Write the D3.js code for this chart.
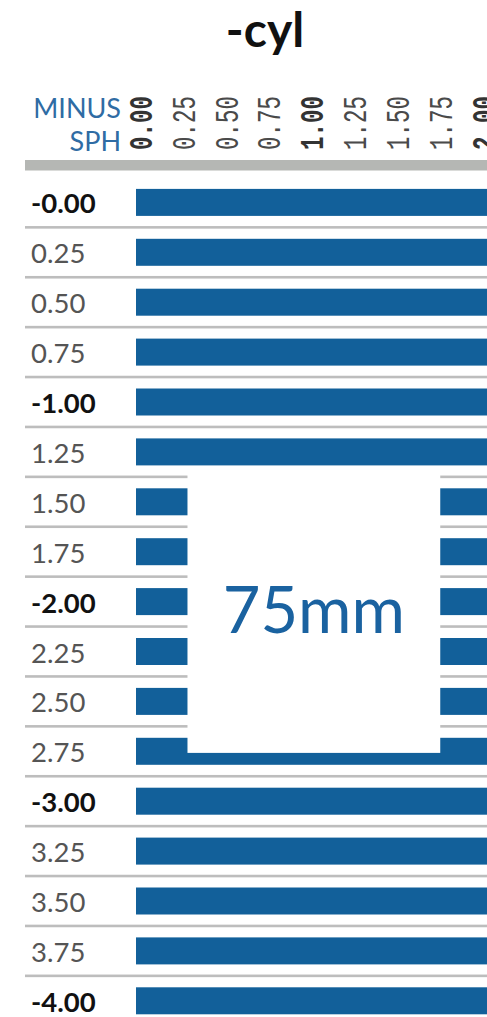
<!DOCTYPE html>
<html>
<head>
<meta charset="utf-8">
<script src="https://cdn.jsdelivr.net/npm/d3@7"></script>
<style>
  body { margin: 0; background: #fff; overflow: hidden; }
</style>
</head>
<body>
<div class="chart"></div>
<script>
// set the dimensions of the page
var width = 487,
    height = 1017

// column ticks (cyl) and rows (sph)
var cylTicks = [0, 0.25, 0.5, 0.75, 1, 1.25, 1.5, 1.75, 2]
var sphRows = [0, 0.25, 0.5, 0.75, 1, 1.25, 1.5, 1.75, 2, 2.25, 2.5, 2.75, 3, 3.25, 3.5, 3.75, 4]
// max cyl available for each sph row (runs past the visible edge)
var maxCyl = [2, 2, 2, 2, 2, 2, 2, 2, 2, 2, 2, 2, 2, 2, 2, 2, 2]
// the 75mm window that covers part of the grid, in cyl / sph units
var boxCyl = [0.30, 1.773]
var boxSph = [1.34, 2.758]
var boxLabel = "75mm"

var blue = "#12609a"

var svg = d3.select(".chart")
  .append("svg")
    .attr("width", width)
    .attr("height", height)
    .style("display", "block")

var x = d3.scaleLinear().domain([0, 2]).range([136, 479.2])
var y = d3.scaleLinear().domain([0, 4]).range([202.4, 1000.8])
var step = x(0.25) - x(0)
var rowStep = y(0.25) - y(0)

// title
svg.append("text")
  .attr("x", 265)
  .attr("y", 47)
  .attr("text-anchor", "middle")
  .style("font-family", "Lato")
  .style("font-weight", "bold")
  .style("font-size", "48px")
  .style("fill", "#111")
  .text("-cyl")

// corner header
svg.append("text")
  .attr("x", 121)
  .attr("y", 117.5)
  .attr("text-anchor", "end")
  .style("font-family", "Lato")
  .style("font-size", "27px")
  .style("fill", "#2f6ca4")
  .text("MINUS")
svg.append("text")
  .attr("x", 121)
  .attr("y", 151)
  .attr("text-anchor", "end")
  .style("font-family", "Lato")
  .style("font-size", "27px")
  .style("fill", "#2f6ca4")
  .text("SPH")

// rotated column labels (the last one runs off the right edge, as in the original)
svg.selectAll(".col")
  .data(cylTicks)
  .enter()
  .append("text")
    .attr("class", "col")
    .attr("transform", function(d) { return "translate(" + (x(d) + 15.7) + ",150) rotate(-90) scale(0.68,1)" })
    .style("font-family", "Liberation Mono")
    .style("font-size", "33px")
    .style("font-weight", function(d) { return d % 1 === 0 ? "bold" : "normal" })
    .style("fill", function(d) { return d % 1 === 0 ? "#333" : "#4a4a4a" })
    .text(function(d) { return d3.format(".2f")(d) })

// thick header rule
svg.append("rect")
  .attr("x", 25)
  .attr("y", 160)
  .attr("width", width - 25)
  .attr("height", 10.5)
  .attr("fill", "#b5b7b4")

// row separators
svg.selectAll(".sep")
  .data(sphRows.slice(0, -1))
  .enter()
  .append("rect")
    .attr("class", "sep")
    .attr("x", 25)
    .attr("y", function(d) { return y(d) + rowStep / 2 - 1.3 })
    .attr("width", width - 25)
    .attr("height", 2.6)
    .attr("fill", "#bdbdbd")

// bars
svg.selectAll(".bar")
  .data(sphRows)
  .enter()
  .append("rect")
    .attr("class", "bar")
    .attr("x", x(0))
    .attr("y", function(d) { return y(d) - 13.5 })
    .attr("width", function(d, i) { return x(maxCyl[i]) + step - x(0) })
    .attr("height", 27)
    .attr("fill", blue)

// row labels
svg.selectAll(".row")
  .data(sphRows)
  .enter()
  .append("text")
    .attr("class", "row")
    .attr("x", 31)
    .attr("y", function(d) { return y(d) + 11 })
    .style("font-family", "Lato")
    .style("font-size", "27.5px")
    .style("font-weight", function(d) { return d % 1 === 0 ? "bold" : "normal" })
    .style("fill", function(d) { return d % 1 === 0 ? "#111" : "#555" })
    .text(function(d) { return (d % 1 === 0 ? "-" : "") + d3.format(".2f")(d) })

// 75mm window
svg.append("rect")
  .attr("x", x(boxCyl[0]))
  .attr("y", y(boxSph[0]))
  .attr("width", x(boxCyl[1]) - x(boxCyl[0]))
  .attr("height", y(boxSph[1]) - y(boxSph[0]))
  .attr("fill", "#fff")

svg.append("text")
  .attr("x", (x(boxCyl[0]) + x(boxCyl[1])) / 2)
  .attr("y", (y(boxSph[0]) + y(boxSph[1])) / 2 + 22)
  .attr("text-anchor", "middle")
  .style("font-family", "Lato")
  .style("font-size", "65px")
  .style("fill", "#1a62a0")
  .text(boxLabel)
</script>
</body>
</html>
